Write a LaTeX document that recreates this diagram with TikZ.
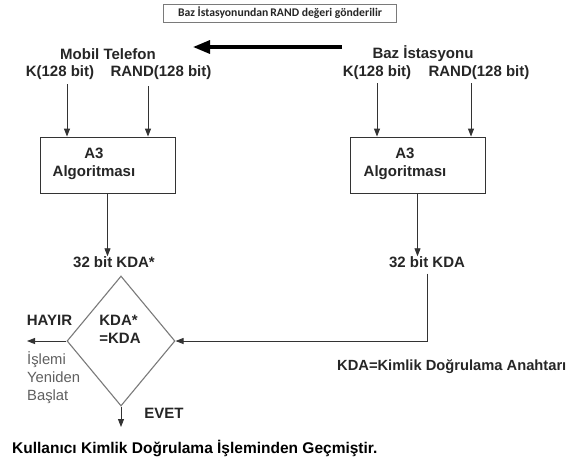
\documentclass[tikz,border=0pt]{standalone}
\usepackage{fontspec}
\setmainfont{Liberation Sans}
\newfontfamily\notefont{Carlito}
\usetikzlibrary{arrows.meta,shapes.geometric}
\definecolor{ink}{HTML}{262626}
\definecolor{wire}{HTML}{333333}
\definecolor{soft}{HTML}{7A7A7A}
\definecolor{note}{HTML}{606060}
\begin{document}
\begin{tikzpicture}[x=1pt,y=-1pt,
  lbl/.style={text=ink,inner sep=0pt,font=\bfseries\fontsize{15}{18}\selectfont},
  plain/.style={text=note,inner sep=0pt,font=\fontsize{14.8}{18}\selectfont,align=left},
  algbox/.style={draw=wire,line width=0.9pt,minimum width=135pt,minimum height=56pt,inner sep=0pt},
  arr/.style={draw=wire,line width=0.9pt,-{Triangle[width=6pt,length=8pt]}},
  bigarr/.style={draw=black,line width=3.2pt,-{Triangle[width=13pt,length=17pt]}}]
\useasboundingbox[fill=white] (0,0) rectangle (572,464);

% message box and transfer arrow
\node[draw=soft,line width=0.8pt,minimum width=233pt,minimum height=18pt,inner sep=0pt,
      font=\notefont\bfseries\fontsize{11.7}{13}\selectfont,text=ink] (note) at (280,13)
  {Baz İstasyonundan\,RAND değeri gönderilir};
\coordinate (sendA) at (342,47);
\coordinate (sendB) at (193,47);
\draw[bigarr] (sendA) -- (sendB);

% mobile phone side
\node[lbl] (phone) at (108,54) {Mobil Telefon};
\node[lbl] (kL) at (60,73) {K(128 bit)};
\node[lbl] (randL) at (161,73) {RAND(128 bit)};
\node[algbox] (algL) at (107.5,165) {};
\node[lbl,align=center] (algLt) at (94,164) {A3\\Algoritması};
\draw[arr] ([xshift=7pt]kL.south) ++(0,4) -- ([xshift=7pt]kL.south |- algL.north);
\draw[arr] ([xshift=-13pt,yshift=-6pt]randL.south) -- ([xshift=-13pt]randL.south |- algL.north);
\node[lbl] (kdaL) at (114,262) {32 bit KDA*};
\draw[arr] (algL.south) -- (algL.south |- kdaL.north);

% base station side
\node[lbl] (bs) at (423,54) {Baz İstasyonu};
\node[lbl] (kR) at (377,73) {K(128 bit)};
\node[lbl] (randR) at (479,73) {RAND(128 bit)};
\node[algbox] (algR) at (417.5,165) {};
\node[lbl,align=center] (algRt) at (405,164) {A3\\Algoritması};
\draw[arr] ([yshift=-3pt]kR.south) -- (kR.south |- algR.north);
\draw[arr] ([xshift=-8pt,yshift=-3pt]randR.south) -- ([xshift=-8pt]randR.south |- algR.north);
\node[lbl] (kdaR) at (427,262) {32 bit KDA};
\draw[arr] (algR.south) -- (algR.south |- kdaR.north);

% comparison
\node[diamond,draw=soft,line width=1.1pt,minimum width=108pt,minimum height=130pt,inner sep=0pt] (dec) at (121,341) {};
\node[lbl,align=left] (dect) at (120,329) {KDA*\\=KDA};
\draw[arr] ([yshift=-6pt]kdaR.south) |- (dec.east);

% outcomes
\node[lbl] (hayir) at (49.5,320) {HAYIR};
\coordinate (retry) at (27,341);
\draw[arr] (dec.west) -- (retry);
\node[plain,anchor=north west] (restart) at (27,351) {İşlemi\\Yeniden\\Başlat};
\coordinate (pass) at (121,427);
\draw[arr] (dec.south) -- (pass);
\node[lbl] (evet) at (164,413) {EVET};
\node[lbl,text=black,anchor=west,font=\bfseries\fontsize{15.5}{18}\selectfont] (done) at (12,448) {Kullanıcı Kimlik Doğrulama İşleminden Geçmiştir.};
\node[lbl,anchor=west,font=\bfseries\fontsize{14.7}{18}\selectfont] (legend) at (337,367) {KDA=Kimlik Doğrulama Anahtarı};
\end{tikzpicture}
\end{document}
